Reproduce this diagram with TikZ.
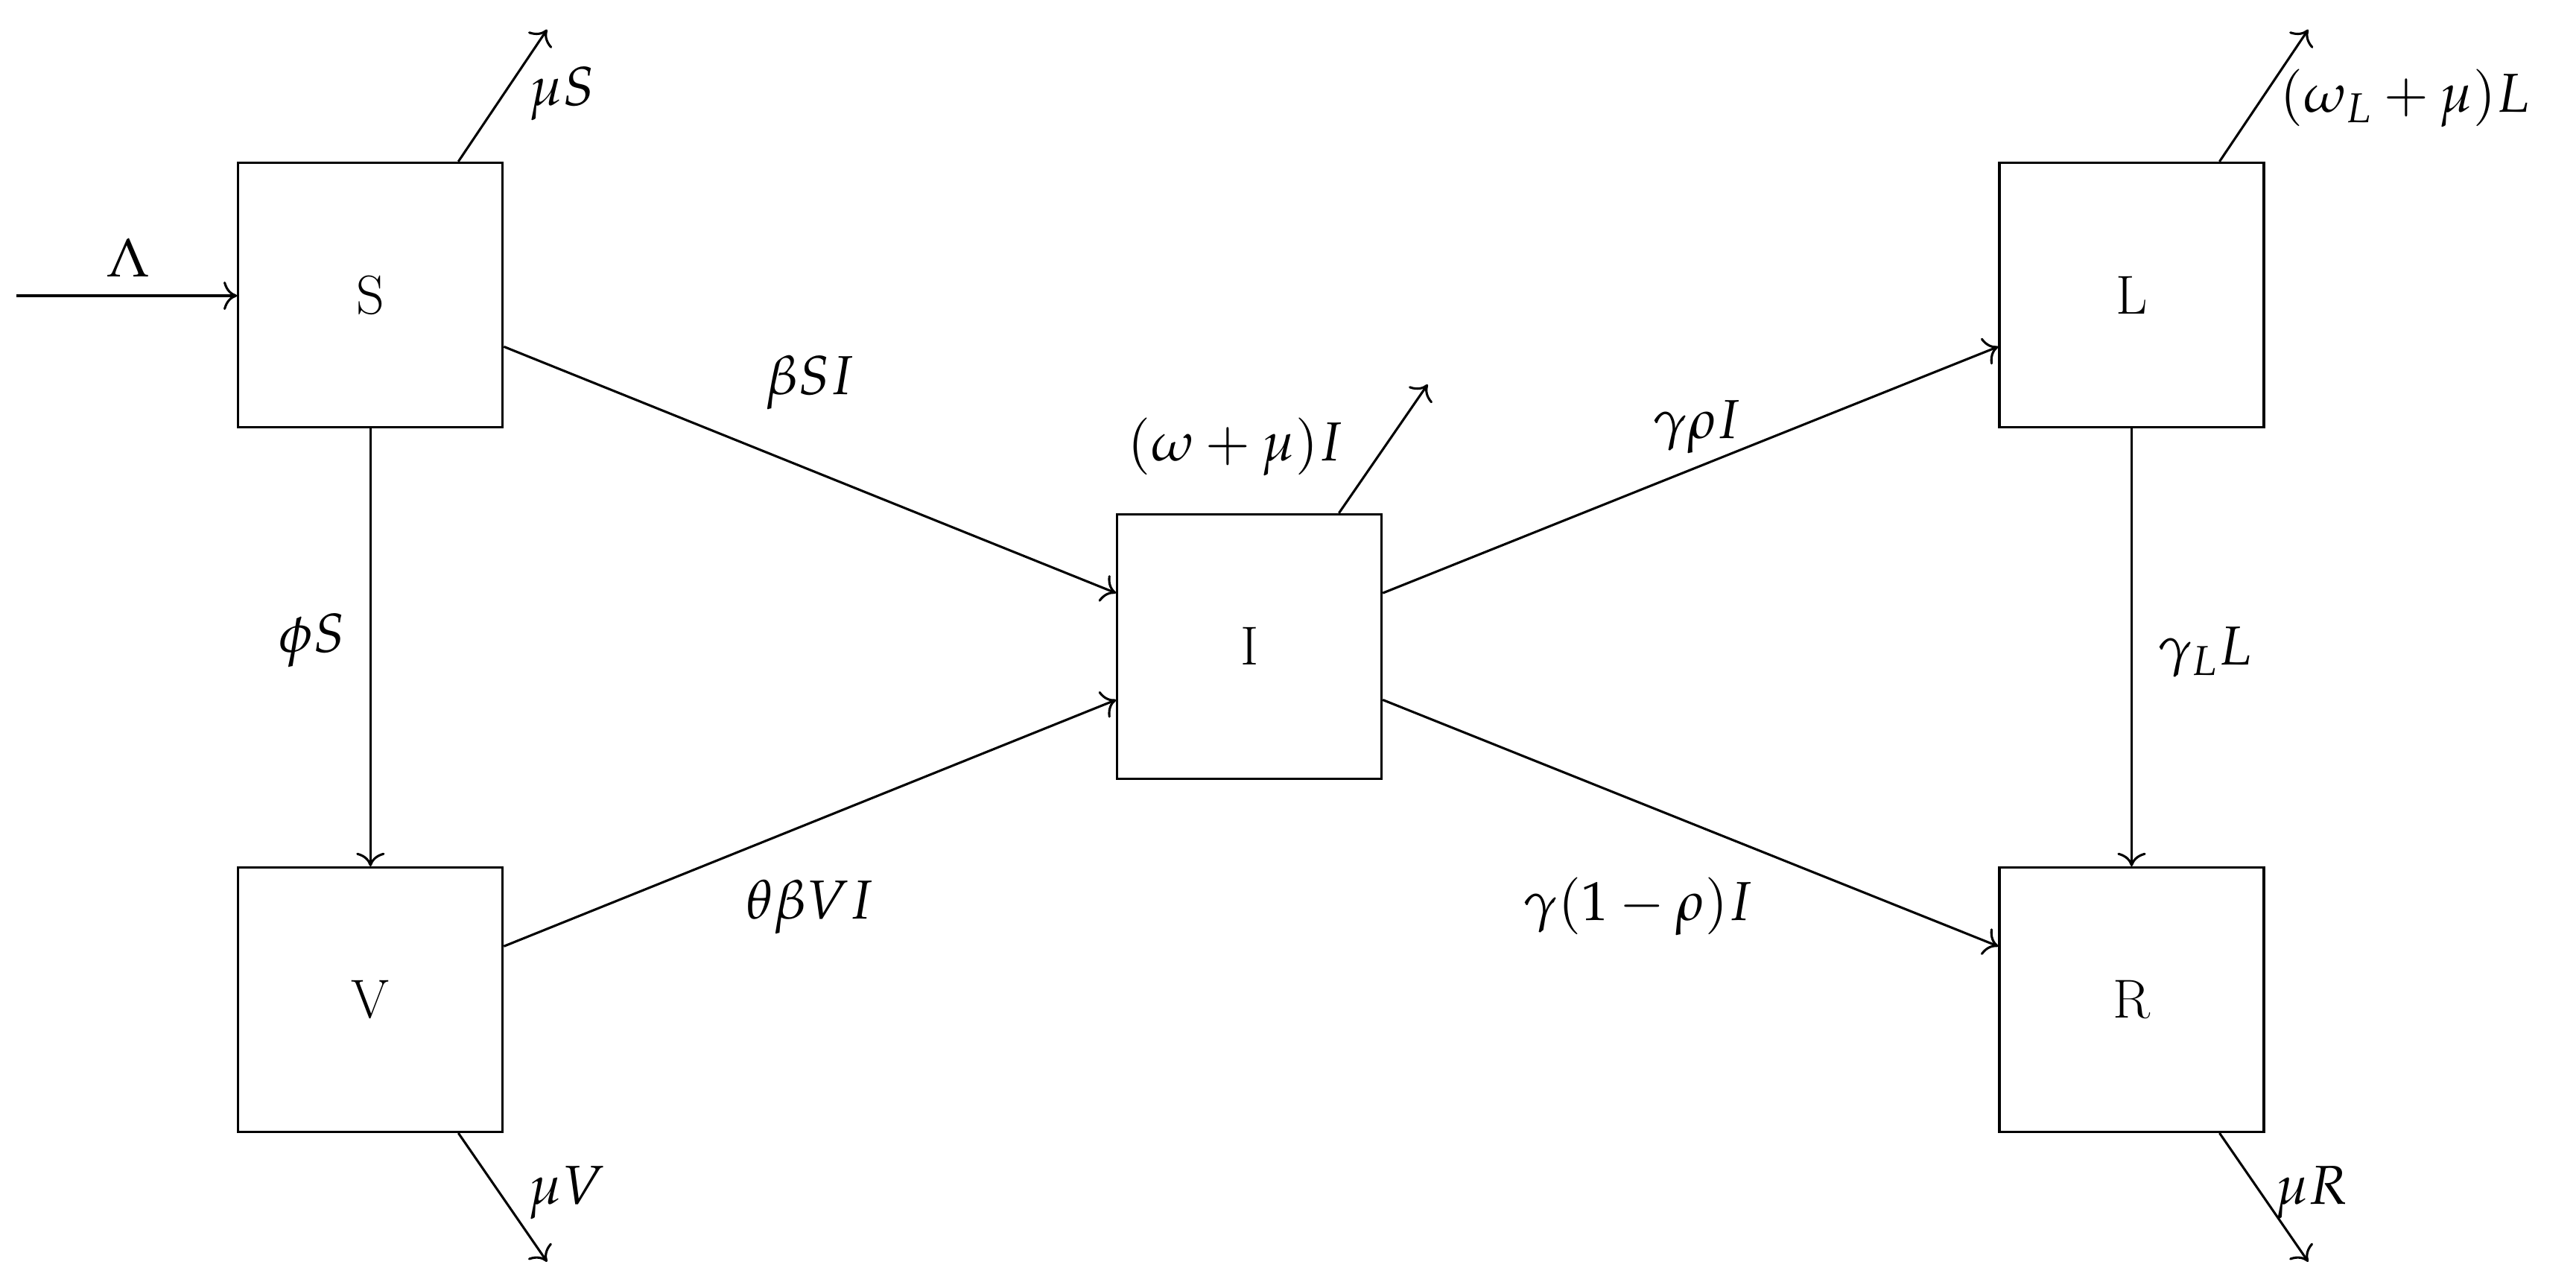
\documentclass[tikz,border=0pt]{standalone}
\usepackage{mathpazo}
\usetikzlibrary{arrows.meta}
\begin{document}
\begin{tikzpicture}[x=0.02cm,y=-0.02cm,line width=0.8pt,
  box/.style={draw,minimum size=3.22cm,inner sep=0pt,font=\fontsize{19}{23}\selectfont},
  lbl/.style={font=\fontsize{19}{23}\selectfont},
  flow/.style={-{To[scale=1.4]}}]
\useasboundingbox (0,0) rectangle (1568,782);
\node[box] (S) at (225.5,179.5) {S};
\node[box] (V) at (225.5,608.5) {V};
\node[box] (I) at (760.5,393.5) {I};
\node[box] (L) at (1297.5,179.5) {L};
\node[box] (R) at (1297.5,608.5) {R};
\coordinate (in) at (10,180);
\coordinate (muS) at (333,18);
\coordinate (muV) at (333,768);
\coordinate (muI) at (869,234);
\coordinate (muL) at (1405,18);
\coordinate (muR) at (1405,768);
\draw[flow] (in) -- (S.west |- in);
\draw[flow] (S.east |- 0,211) -- (I.west |- 0,361);
\draw[flow] (V.east |- 0,576) -- (I.west |- 0,426);
\draw[flow] (I.east |- 0,361) -- (L.west |- 0,211);
\draw[flow] (I.east |- 0,426) -- (R.west |- 0,576);
\draw[flow] (S) -- (V);
\draw[flow] (L) -- (R);
\draw[flow] (S.north -| 279,0) -- (muS);
\draw[flow] (V.south -| 279,0) -- (muV);
\draw[flow] (I.north -| 815,0) -- (muI);
\draw[flow] (L.north -| 1351,0) -- (muL);
\draw[flow] (R.south -| 1351,0) -- (muR);
\node[lbl] at (78,157) {$\Lambda$};
\node[lbl] at (493,233) {$\beta SI$};
\node[lbl] at (493,552) {$\theta\beta VI$};
\node[lbl] at (1033,260) {$\gamma\rho I$};
\node[lbl] at (997,552) {$\gamma(1-\rho)I$};
\node[lbl] at (190,390) {$\phi S$};
\node[lbl] at (1342,397) {$\gamma_L L$};
\node[lbl] at (342,57) {$\mu S$};
\node[lbl] at (345,726) {$\mu V$};
\node[lbl] at (752,272) {$(\omega+\mu)I$};
\node[lbl] at (1464,60) {$(\omega_L+\mu)L$};
\node[lbl] at (1407,726) {$\mu R$};
\end{tikzpicture}
\end{document}
